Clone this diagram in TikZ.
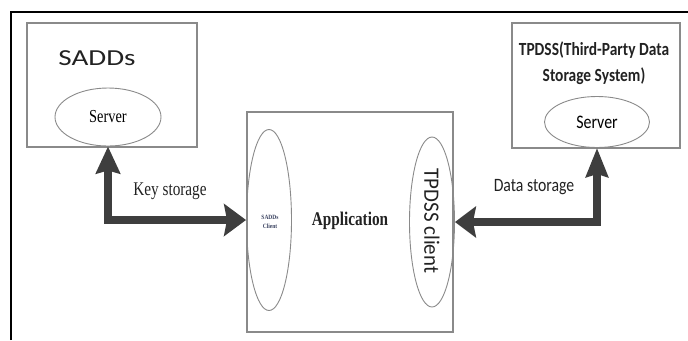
\documentclass[tikz,border=0pt]{standalone}
\usepackage{fontspec}
\setmainfont{Liberation Serif}
\newfontfamily\carl{Carlito}
\usetikzlibrary{arrows.meta,shapes.geometric}
\definecolor{boxgray}{HTML}{8A8A8A}
\definecolor{arrowgray}{HTML}{3E3E3E}
\definecolor{clientblue}{HTML}{3A4260}
\definecolor{textdark}{HTML}{222222}
\tikzset{
  box/.style={draw=boxgray,line width=1.1bp,rectangle,inner sep=0pt},
  oval/.style={draw=boxgray,line width=0.9bp,ellipse,inner sep=0pt},
  txt/.style={inner sep=0pt,align=center,text=textdark},
  fat/.style={draw=arrowgray,line width=8bp,line join=miter,
    {Stealth[length=27bp,width=24bp,inset=3bp]}-{Stealth[length=22bp,width=32bp,inset=3bp]}},
  fatr/.style={draw=arrowgray,line width=8bp,line join=miter,
    {Stealth[length=21bp,width=31bp,inset=3bp]}-{Stealth[length=29bp,width=22bp,inset=3bp]}},
}
\newcommand{\tms}[2]{\scalebox{0.85}[1.08]{\fontsize{#1}{#1}\selectfont #2}}
\newcommand{\crl}[2]{\scalebox{1}[1.2]{\carl\fontsize{#1}{#1}\selectfont #2}}
\begin{document}
\begin{tikzpicture}[x=1bp,y=-1bp]
\useasboundingbox (0,0) rectangle (688,340);
% outer frame (left and top edges)
\coordinate (fbl) at (11,340);
\coordinate (ftl) at (11,12);
\coordinate (ftr) at (688,12);
\draw[line width=2.6bp,black] (fbl) -- (ftl) -- (ftr);

% SADDs box
\node[box,minimum width=170bp,minimum height=124bp] (sadbox) at (112,85) {};
\node[txt] (sadtitle) at (97,58) {\scalebox{1.27}[1]{\carl\fontsize{23}{23}\selectfont SADDs}};
\node[oval,minimum width=106bp,minimum height=58bp] (sadsrv) at (108,117) {\tms{17}{Server}};

% TPDSS box
\node[box,minimum width=168bp,minimum height=125bp] (tpbox) at (596,85.5) {};
\node[txt] (tptitle1) at (594,50) {\crl{15.5}{\bfseries TPDSS(Third-Party Data}};
\node[txt] (tptitle2) at (594,76) {\crl{15.5}{\bfseries Storage System)}};
\node[oval,minimum width=105bp,minimum height=51bp] (tpsrv) at (597,122) {\crl{16}{Server}};

% Application box
\node[box,minimum width=206bp,minimum height=220bp] (app) at (350,222) {};
\node[txt] (applabel) at (350,221) {\tms{18}{\bfseries Application}};
\node[oval,minimum width=45bp,minimum height=181bp] (sadcl) at (269,220) {};
\node[txt,text=clientblue] (sadcltxt) at (270,222) {\scalebox{0.85}[1]{\fontsize{6.5}{8}\selectfont\bfseries\shortstack{SADDs\\[2bp]Client}}};
\node[oval,minimum width=45bp,minimum height=170bp] (tpcl) at (432,222) {};
\node[txt,rotate=-90] (tpcltxt) at (432,221) {\scalebox{1.05}[1.1]{\carl\fontsize{20}{20}\selectfont TPDSS client}};

% arrows
\draw[fat] (sadsrv.south) |- (sadcl.west);
\draw[fatr] (tpcl.east) -| (tpsrv.south);
\node[txt] (keylab) at (170,191) {\tms{18}{Key storage}};
\node[txt] (datalab) at (534,187) {\crl{15.8}{Data storage}};
\end{tikzpicture}
\end{document}
